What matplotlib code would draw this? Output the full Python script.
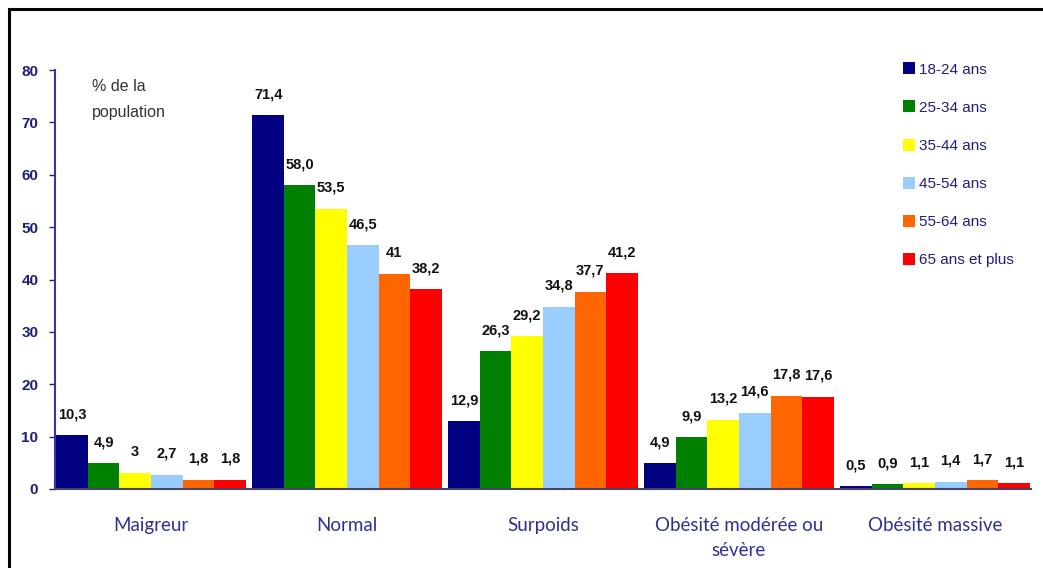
import numpy as np
import matplotlib.pyplot as plt
from matplotlib.lines import Line2D

categories = ["Maigreur", "Normal", "Surpoids", "Obésité modérée ou\nsévère", "Obésité massive"]
age_groups = ["18-24 ans", "25-34 ans", "35-44 ans", "45-54 ans", "55-64 ans", "65 ans et plus"]
values = [
    [10.3, 71.4, 12.9, 4.9, 0.5],   # 18-24
    [4.9, 58.0, 26.3, 9.9, 0.9],    # 25-34
    [3.0, 53.5, 29.2, 13.2, 1.1],   # 35-44
    [2.7, 46.5, 34.8, 14.6, 1.4],   # 45-54
    [1.8, 41.0, 37.7, 17.8, 1.7],   # 55-64
    [1.8, 38.2, 41.2, 17.6, 1.1],   # 65+
]
labels = [
    ["10,3", "71,4", "12,9", "4,9", "0,5"],
    ["4,9", "58,0", "26,3", "9,9", "0,9"],
    ["3", "53,5", "29,2", "13,2", "1,1"],
    ["2,7", "46,5", "34,8", "14,6", "1,4"],
    ["1,8", "41", "37,7", "17,8", "1,7"],
    ["1,8", "38,2", "41,2", "17,6", "1,1"],
]
colors = ["#000080", "#008000", "#FFFF00", "#99CCFF", "#FF6600", "#FF0000"]
navy = "#1F1F7A"

fig = plt.figure(figsize=(10.43, 5.68), dpi=100)
ax = fig.add_axes([55 / 1043, 1 - 489 / 568, 976 / 1043, 419 / 568])

x = np.arange(len(categories))
w = 0.161
for i, (vals, lab, c) in enumerate(zip(values, labels, colors)):
    pos = x + (i - 2.5) * w
    bars = ax.bar(pos, vals, width=w, color=c, linewidth=0)
    for b, v, t in zip(bars, vals, lab):
        ax.annotate(t, (b.get_x() + b.get_width() / 2, v), xytext=(0, 10),
                    textcoords="offset points", ha="center", va="bottom",
                    fontsize=10.5, fontweight="bold", family="Liberation Sans", color="#111111")

ax.set_xlim(-0.49, 4.49)
ax.set_ylim(0, 80)
ax.set_yticks(range(0, 81, 10))
ax.tick_params(axis="y", direction="out", length=4, width=1, color=navy,
               labelsize=11, labelcolor=navy, pad=8)
for t in ax.get_yticklabels():
    t.set_fontweight("bold")
    t.set_family("Liberation Sans")
ax.set_xticks(x)
ax.set_xticklabels(categories, fontsize=13.5, color="#2E3192", family="Lato",
                   linespacing=1.6, va="top")
ax.tick_params(axis="x", length=0, pad=20)
for s in ["top", "right"]:
    ax.spines[s].set_visible(False)
ax.spines["left"].set_color("#3333AA")
ax.spines["left"].set_linewidth(1.5)
ax.spines["bottom"].set_color("#444466")
ax.spines["bottom"].set_linewidth(1.5)

ax.text(37 / 976, 1 - 9 / 419, "% de la\npopulation", transform=ax.transAxes, fontsize=11.5,
        family="Liberation Sans", color="#333333", va="top", ha="left", linespacing=1.9)

handles = [Line2D([], [], marker="s", linestyle="none", markersize=8,
                  markerfacecolor=c, markeredgewidth=0) for c in colors]
fig.legend(handles, age_groups, loc="upper left", bbox_to_anchor=(895 / 1043, 1 - 55 / 568),
           frameon=False, labelcolor=navy, handlelength=0.8,
           handletextpad=0.25, labelspacing=1.58, borderpad=0,
           prop={"family": "Liberation Sans", "size": 11})

# black frame around the picture
fig.add_artist(Line2D([9 / 1043, 9 / 1043], [0, 1 - 9 / 568], color="black", lw=2.2,
                      transform=fig.transFigure))
fig.add_artist(Line2D([9 / 1043, 1], [1 - 9 / 568, 1 - 9 / 568], color="black", lw=2.2,
                      transform=fig.transFigure))

fig.savefig("out.png", dpi=100)
